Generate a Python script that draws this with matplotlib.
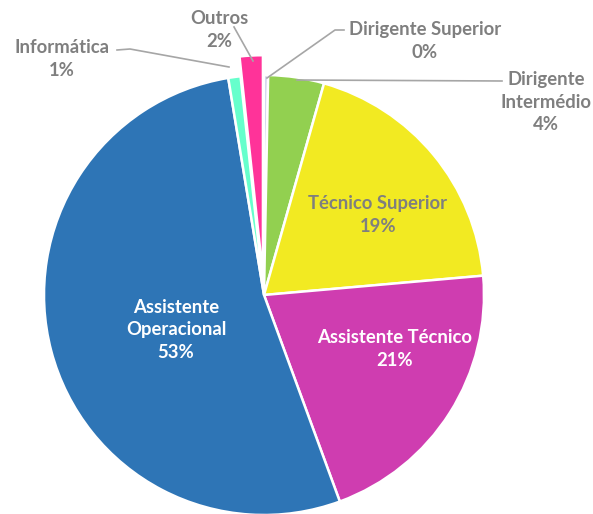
import matplotlib
matplotlib.use('Agg')
import matplotlib.pyplot as plt

# fatias no sentido dos ponteiros, a partir das 12h
categorias = ['Dirigente Superior', 'Dirigente Intermédio', 'Técnico Superior',
              'Assistente Técnico', 'Assistente Operacional', 'Informática', 'Outros']
valores = [0.3, 4.1, 19.2, 20.8, 53.0, 0.9, 1.7]
cores = ['#C9CBEA', '#92D050', '#F2EA22', '#CF3DB0', '#2E75B6', '#66FFCC', '#FF3399']
etiquetas = ['Dirigente Superior', 'Dirigente\nIntermédio', 'Técnico Superior',
             'Assistente Técnico', 'Assistente\nOperacional', 'Informática', 'Outros']
destaque = [0, 0, 0, 0, 0, 0, 0.09]

plt.rcParams['font.family'] = ['Lato', 'DejaVu Sans']

W, H = 593, 514
cx, cy, R = 264, 295, 220


def px(x, y):
    # pixel da imagem -> coordenadas do grafico (raio 1)
    return (x - cx) / R, (cy - y) / R


fig = plt.figure(figsize=(W / 100, H / 100), dpi=100)
ax = fig.add_axes([0, 0, 1, 1])
ax.pie(valores, colors=cores, startangle=90, counterclock=False, explode=destaque,
       wedgeprops=dict(edgecolor='white', linewidth=1.8))
ax.set_xlim(-cx / R, (W - cx) / R)
ax.set_ylim((cy - H) / R, cy / R)
ax.set_aspect('equal')
ax.axis('off')

cinza = '#7F7F7F'
fs = 13.3
ls = 1.38

def rot(i):
    return etiquetas[i] + '\n' + f'{round(valores[i]):d}%'

def txt(x, y, s, cor):
    ax.text(*px(x, y), s, ha='center', va='center', color=cor,
            fontsize=fs, fontweight='bold', linespacing=ls)

# etiquetas dentro das fatias
txt(378, 215, rot(2), cinza)
txt(395, 349, rot(3), 'white')
txt(176, 330, rot(4), 'white')

# etiquetas de fora com linhas de chamada
lc = dict(color='#A6A6A6', lw=1.2)
ax.plot(*zip(px(267, 78), px(335, 30), px(344, 30)), **lc)
txt(425, 41, rot(0), cinza)

ax.plot(*zip(px(297, 80), px(502, 81)), **lc)
txt(546, 102, rot(1), cinza)

ax.plot(*zip(px(229, 67), px(130, 49), px(117, 50)), **lc)
txt(62, 59, rot(5), cinza)

ax.plot(*zip(px(253, 61), px(234, 27)), **lc)
txt(219, 30, rot(6), cinza)

fig.savefig('out.png', dpi=100)
